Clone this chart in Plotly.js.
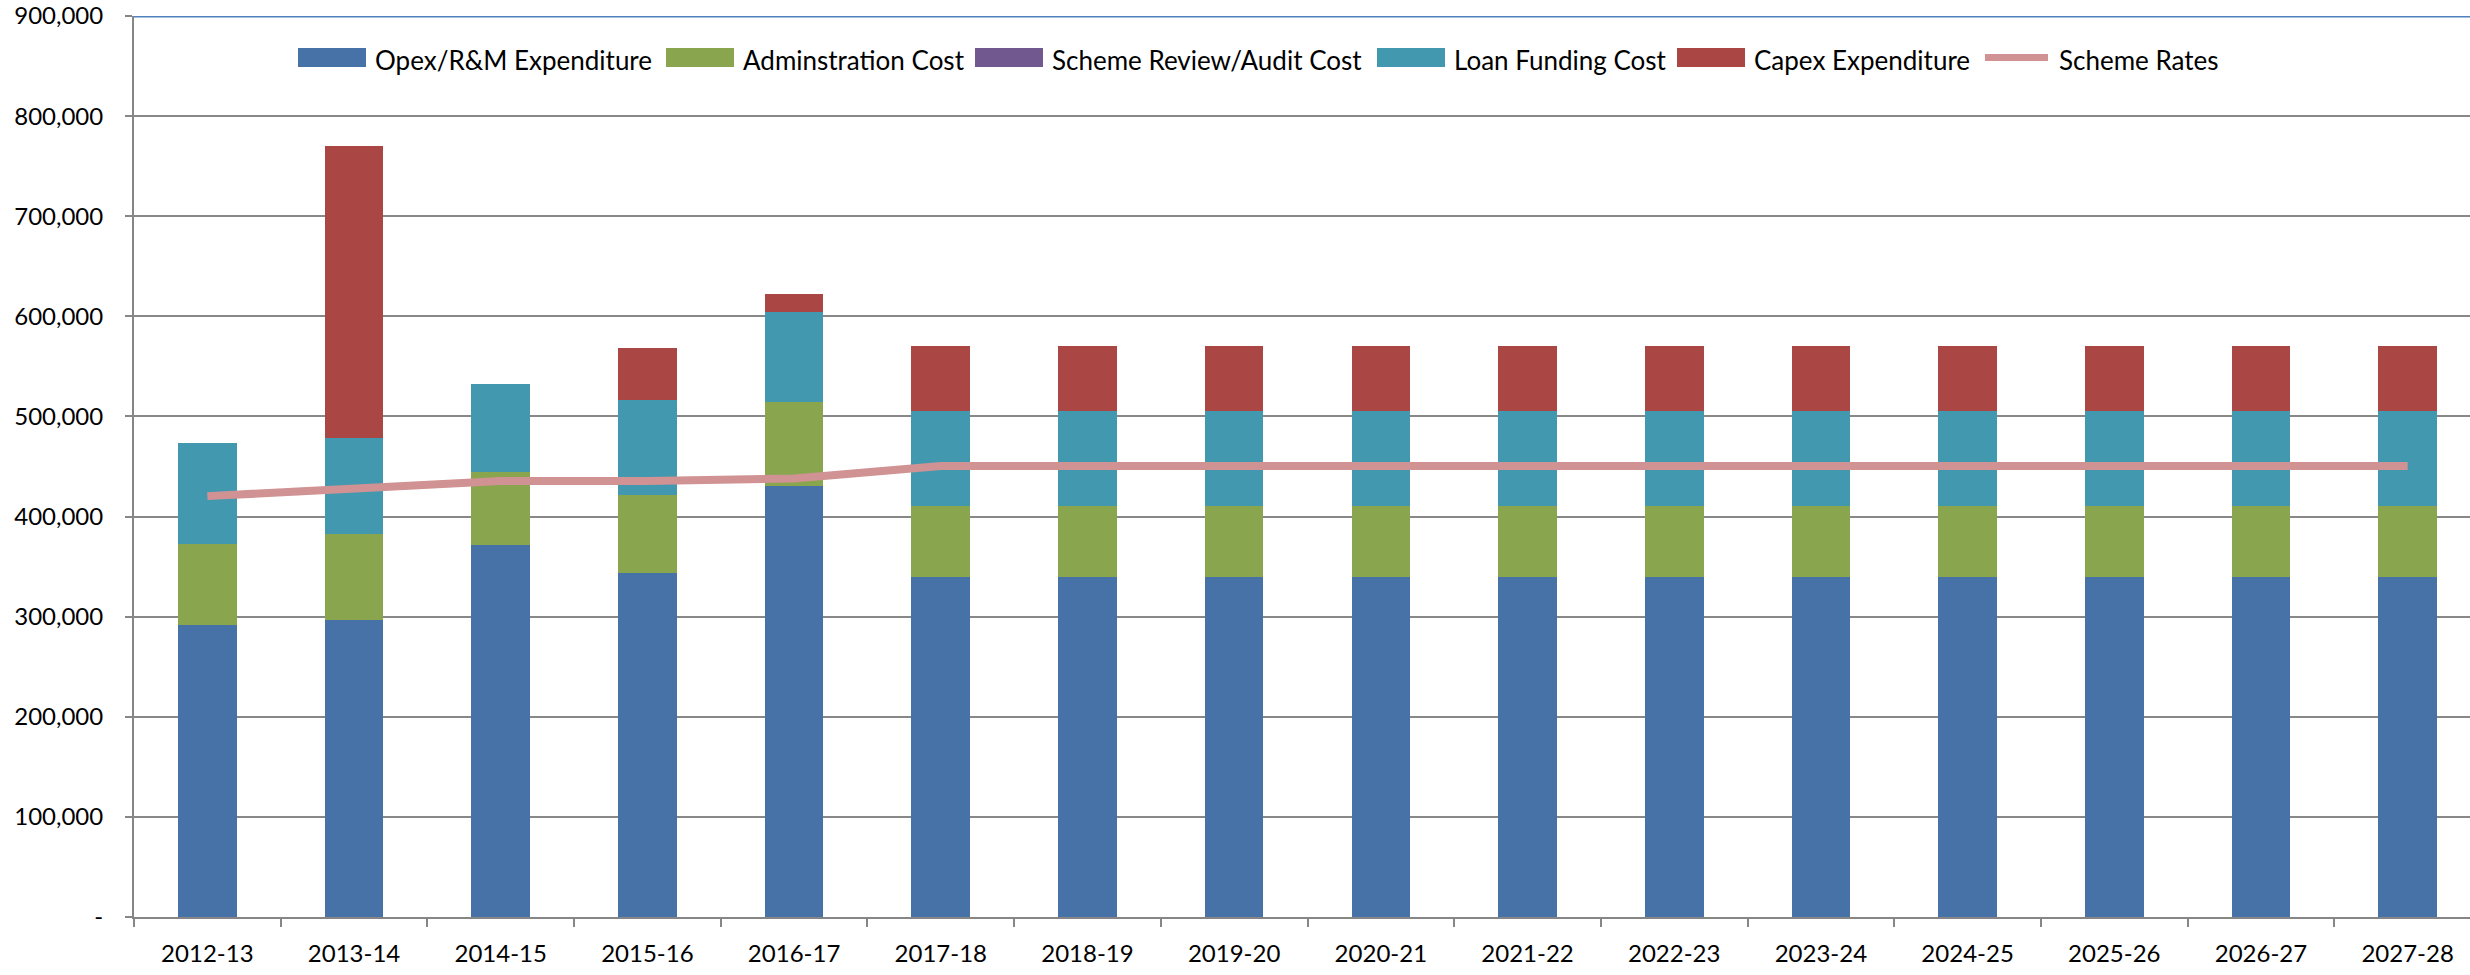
<!DOCTYPE html>
<html>
<head>
<meta charset="utf-8">
<script src="https://cdn.plot.ly/plotly-3.0.1.min.js"></script>
<style>
html,body{margin:0;padding:0;background:#ffffff;overflow:hidden;}
#chart{width:2470px;height:975px;}
</style>
</head>
<body>
<div id="chart"></div>
<script>
// ---------- DATA ----------
const years = ["2012-13","2013-14","2014-15","2015-16","2016-17","2017-18","2018-19","2019-20",
               "2020-21","2021-22","2022-23","2023-24","2024-25","2025-26","2026-27","2027-28"];
const opex   = [292000, 297000, 372000, 343500, 431000, 340000, 340000, 340000,
                340000, 340000, 340000, 340000, 340000, 340000, 340000, 340000];
const admin  = [80600, 85600, 72500, 77900, 83200, 70500, 70500, 70500,
                70500, 70500, 70500, 70500, 70500, 70500, 70500, 70500];
const review = [0, 0, 0, 0, 0, 0, 0, 0, 0, 0, 0, 0, 0, 0, 0, 0];
const loan   = [100600, 95500, 87600, 95200, 89800, 95200, 95200, 95200,
                95200, 95200, 95200, 95200, 95200, 95200, 95200, 95200];
const capex  = [0, 292400, 0, 51300, 18200, 64900, 64900, 64900,
                64900, 64900, 64900, 64900, 64900, 64900, 64900, 64900];
const schemeRates = [420400, 428000, 435500, 435500, 438000, 450500, 450500, 450500,
                     450500, 450500, 450500, 450500, 450500, 450500, 450500, 450500];
const seriesNames = ["Opex/R&M Expenditure", "Adminstration Cost", "Scheme Review/Audit Cost",
                     "Loan Funding Cost", "Capex Expenditure", "Scheme Rates"];
const yTickVals = [0, 100000, 200000, 300000, 400000, 500000, 600000, 700000, 800000, 900000];
const yTickText = ["-", "100,000", "200,000", "300,000", "400,000", "500,000", "600,000", "700,000", "800,000", "900,000"];

// ---------- STYLE / LAYOUT CONSTANTS ----------
const W = 2470, H = 975, ML = 134, MT = 16, MB = 58, MR = 0;
const colors = ["#4672A8", "#89A54E", "#71588F", "#4198AF", "#AA4643", "#D09292"];
const FONT = "Lato, 'Liberation Sans', sans-serif";
const barSeries = [opex, admin, review, loan, capex];

const traces = barSeries.map((vals, i) => ({
  type: "bar",
  name: seriesNames[i],
  x: years,
  y: vals,
  marker: {color: colors[i], line: {width: 0}},
  showlegend: false,
  hoverinfo: "skip"
}));
traces.push({
  type: "scatter",
  mode: "lines",
  name: seriesNames[5],
  x: years,
  y: schemeRates,
  line: {color: colors[5], width: 8},
  showlegend: false,
  hoverinfo: "skip"
});

// custom legend (pixel positions -> paper coordinates)
const plotW = W - ML - MR, plotH = H - MT - MB;
const px2x = p => (p - ML) / plotW;
const px2y = p => (H - MB - p) / plotH;
const legendSwatchX = [298, 666, 975, 1377, 1677, 1982];
const legendSwatchW = 68;
const legendY = 57.5;
const shapes = [];
const annotations = [];
seriesNames.forEach((nm, i) => {
  const x0 = legendSwatchX[i];
  if (i < 5) {
    shapes.push({type: "rect", xref: "paper", yref: "paper",
      x0: px2x(x0), x1: px2x(x0 + legendSwatchW), y0: px2y(legendY + 9.5), y1: px2y(legendY - 9.5),
      fillcolor: colors[i], line: {width: 0}});
  } else {
    shapes.push({type: "line", xref: "paper", yref: "paper",
      x0: px2x(x0 + 3), x1: px2x(x0 + legendSwatchW - 2), y0: px2y(legendY), y1: px2y(legendY),
      line: {color: colors[i], width: 7}});
  }
  annotations.push({xref: "paper", yref: "paper", x: px2x(x0 + legendSwatchW + 7), y: px2y(legendY + 2.5),
    xanchor: "left", yanchor: "middle", showarrow: false, text: nm,
    font: {family: FONT, size: 26, color: "#000000"}});
});
// top border line at the max of the y range
shapes.push({type: "line", xref: "paper", x0: 0, x1: 1, yref: "y", y0: 900000, y1: 900000,
  line: {color: "#4F81BD", width: 3}});

const layout = {
  width: W, height: H,
  margin: {l: ML, r: MR, t: MT, b: MB, pad: 0},
  paper_bgcolor: "#ffffff",
  plot_bgcolor: "#ffffff",
  barmode: "stack",
  bargap: 0.6,
  showlegend: false,
  font: {family: FONT, size: 24, color: "#000000"},
  xaxis: {
    type: "category",
    range: [-0.5, 15.425],
    showgrid: false, zeroline: false,
    showline: true, linecolor: "#868686", linewidth: 2,
    ticks: "outside", tickson: "boundaries", ticklen: 8, tickwidth: 2, tickcolor: "#868686",
    ticklabelstandoff: 14,
    tickfont: {family: FONT, size: 24, color: "#000000"}
  },
  yaxis: {
    range: [0, 900000],
    tickmode: "array", tickvals: yTickVals, ticktext: yTickText,
    showgrid: true, gridcolor: "#888888", gridwidth: 2,
    zeroline: false,
    showline: true, linecolor: "#868686", linewidth: 2,
    ticks: "outside", ticklen: 7, tickwidth: 2, tickcolor: "#868686",
    ticklabelstandoff: 17,
    tickfont: {family: FONT, size: 24, color: "#000000"}
  },
  shapes: shapes,
  annotations: annotations
};

Plotly.newPlot("chart", traces, layout, {staticPlot: true, displayModeBar: false});
</script>
</body>
</html>
